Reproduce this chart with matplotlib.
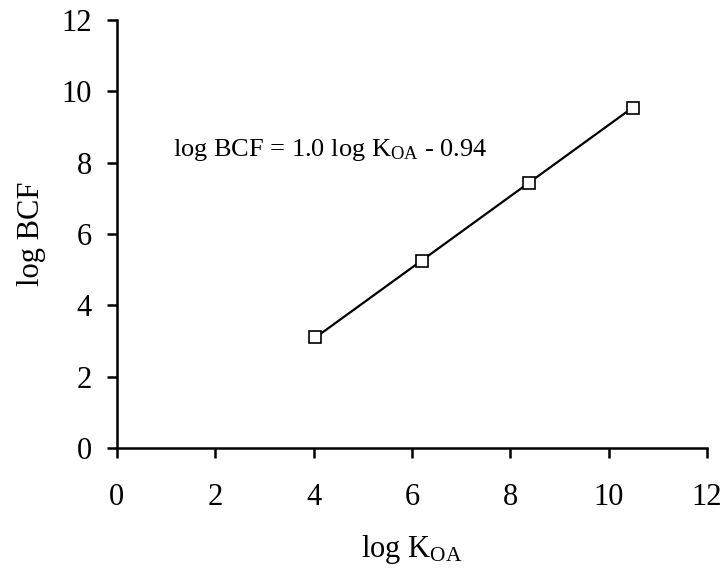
import numpy as np
import matplotlib
matplotlib.use("Agg")
import matplotlib.pyplot as plt

plt.rcParams['font.family'] = ['Liberation Serif', 'DejaVu Serif']
plt.rcParams['mathtext.fontset'] = 'custom'
plt.rcParams['mathtext.rm'] = 'Liberation Serif'
plt.rcParams['mathtext.it'] = 'Liberation Serif:italic'

# data
log_koa = [4.02, 6.2, 8.37, 10.5]
log_bcf = [3.1, 5.25, 7.42, 9.53]
slope = 1.0
intercept = -0.94
ticks = [0, 2, 4, 6, 8, 10, 12]

fig = plt.figure(figsize=(7.26, 5.69), dpi=100)
ax = fig.add_axes([0.161, 0.2127, 0.813, 0.752])

xfit = np.array([log_koa[0], log_koa[-1]])
ax.plot(xfit, slope * xfit + intercept, color='black', lw=1.6, zorder=2)
ax.plot(log_koa, log_bcf, 's', ms=9, mfc='white', mec='black', mew=1.2, zorder=3)

ax.text(1.15, 8.35, r'log BCF = 1.0 log K$_\mathregular{OA}$ - 0.94', fontsize=19,
        va='center', ha='left')

ax.set_xlim(0, 12)
ax.set_ylim(0, 12)
ax.set_xticks(ticks)
ax.set_yticks(ticks)
for s in ['top', 'right']:
    ax.spines[s].set_visible(False)
for s in ['left', 'bottom']:
    ax.spines[s].set_linewidth(1.8)
ax.tick_params(direction='out', length=7, width=1.8, labelsize=22)
ax.tick_params(axis='x', pad=18)
ax.tick_params(axis='y', pad=11)
ax.set_xlabel(r'log K$_\mathregular{OA}$', fontsize=22, labelpad=15)
ax.set_ylabel('log BCF', fontsize=22, labelpad=11)

fig.savefig('out.png', dpi=100)
